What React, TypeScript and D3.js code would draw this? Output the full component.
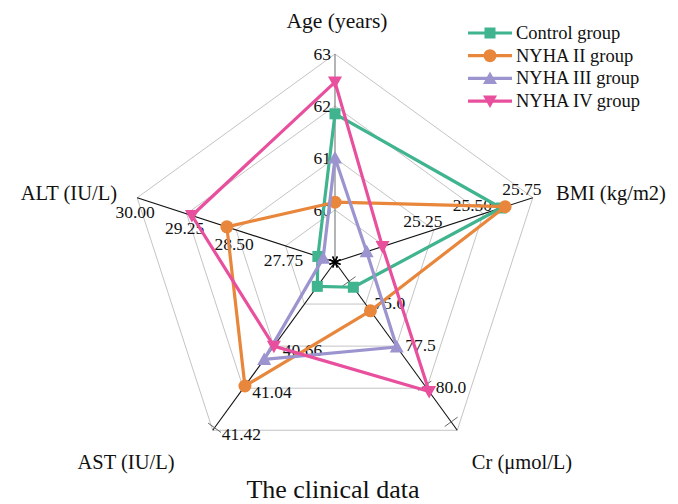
import React from "react";
import * as d3 from "d3";

// Axis names, clockwise from the top
const categories = ["Age (years)", "BMI (kg/m2)", "Cr (μmol/L)", "AST (IU/L)", "ALT (IU/L)"];

// Each spoke carries its own scale: [value at centre, value at outer ring]
const axisMin = [59, 24.75, 72.5, 39.9, 27.0];
const axisMax = [63, 25.75, 82.5, 41.42, 30.0];

// Labelled ticks per spoke
const ageTicks = [60, 61, 62, 63];
const bmiTicks = [25.25, 25.5, 25.75];
const crTicks = [75.0, 77.5, 80.0];
const astTicks = [40.66, 41.04, 41.42];
const altTicks = [27.75, 28.5, 29.25, 30.0];
const tickDecimals = [0, 2, 1, 2, 2];

// Group means, in the order of categories
const seriesNames = ["Control group", "NYHA II group", "NYHA III group", "NYHA IV group"];
const controlValues = [61.85, 25.59, 74.0, 40.12, 27.26];
const nyha2Values = [60.15, 25.61, 75.4, 41.02, 28.64];
const nyha3Values = [61.0, 24.91, 77.55, 40.78, 27.18];
const nyha4Values = [62.46, 24.99, 80.2, 40.66, 29.17];

const colors = ["#3fb48f", "#e8873c", "#9b94cf", "#e8509e"];
const markers = ["square", "circle", "triangleUp", "triangleDown"];

const W = 678;
const H = 504;
const cx = 335;
const cy = 262;
const R = 208;
const rings = 4;

const serif = "Liberation Serif";

function Marker({ type, x, y, color }: { type: string; x: number; y: number; color: string }) {
  if (type === "square") {
    return <rect x={x - 5.5} y={y - 5.5} width={11} height={11} fill={color} />;
  }
  if (type === "circle") {
    return <circle cx={x} cy={y} r={6.5} fill={color} />;
  }
  if (type === "triangleUp") {
    return <path d={`M${x},${y - 7}L${x + 7},${y + 5.5}L${x - 7},${y + 5.5}Z`} fill={color} />;
  }
  return <path d={`M${x},${y + 7}L${x + 7},${y - 5.5}L${x - 7},${y - 5.5}Z`} fill={color} />;
}

export default function App() {
  const n = categories.length;
  const angle = d3.scaleLinear().domain([0, n]).range([0, 2 * Math.PI]);
  const radial = categories.map((_, i) =>
    d3.scaleLinear().domain([axisMin[i], axisMax[i]]).range([0, R])
  );
  const pt = (i: number, r: number): [number, number] => {
    const a = angle(i);
    return [cx + r * Math.sin(a), cy - r * Math.cos(a)];
  };

  const allTicks = [ageTicks, bmiTicks, crTicks, astTicks, altTicks];
  const allSeries = [controlValues, nyha2Values, nyha3Values, nyha4Values];
  const lineGen = d3.line<[number, number]>().curve(d3.curveLinearClosed);

  // Gray pentagon rings
  const ringPaths = d3.range(1, rings + 1).map((k) =>
    lineGen(categories.map((_, i) => pt(i, (R * k) / rings)))
  );

  // Tick label placement per spoke
  const tickLabel = (i: number, v: number) => {
    const [x, y] = pt(i, radial[i](v));
    const text = v.toFixed(tickDecimals[i]);
    if (i === 0) return { x: x - 4, y: y + 6, anchor: "end", text };
    if (i === 1) return { x: x - 11, y: y - 3, anchor: "middle", text };
    if (i === 2) return { x: x + 9, y: y + 5, anchor: "start", text };
    if (i === 3) return { x: x + 9, y: y + 10, anchor: "start", text };
    return { x: x - 2, y: y + 20, anchor: "middle", text };
  };

  // Cross ticks drawn on the lower spokes
  const crossTicks: [number, number][] = [
    [2, 0.115],
    [2, 0.735],
    [2, 0.95],
    [3, 0.985],
  ];

  const textStyle = { fontFamily: serif };

  return (
    <svg width={W} height={H} style={{ position: "absolute", left: 0, top: 0, background: "#fff" }}>
      <rect x={0} y={0} width={W} height={H} fill="#fff" />
      {ringPaths.map((d, k) => (
        <path key={k} d={d || ""} fill="none" stroke="#c4c4c4" strokeWidth={1} />
      ))}
      {categories.map((_, i) => {
        const [x, y] = pt(i, R);
        return (
          <line key={i} x1={cx} y1={cy} x2={x} y2={y} stroke={i === 0 ? "#777" : "#111"} strokeWidth={1.1} />
        );
      })}
      {crossTicks.map(([i, f], k) => {
        const [x, y] = pt(i, R * f);
        const a = angle(i);
        const px = Math.cos(a) * 8;
        const py = Math.sin(a) * 8;
        return <line key={k} x1={x - px} y1={y - py} x2={x + px} y2={y + py} stroke="#666" strokeWidth={1} />;
      })}
      {allTicks.map((ticks, i) =>
        ticks.map((v) => {
          const l = tickLabel(i, v);
          return (
            <text key={`${i}-${v}`} x={l.x} y={l.y} textAnchor={l.anchor as any} style={textStyle} fontSize={17.5} fill="#111">
              {l.text}
            </text>
          );
        })
      )}
      {allSeries.map((vals, s) => {
        const pts = vals.map((v, i) => pt(i, radial[i](v)));
        return (
          <g key={s}>
            <path d={lineGen(pts) || ""} fill="none" stroke={colors[s]} strokeWidth={3.2} strokeLinejoin="round" />
            {pts.map(([x, y], i) => (
              <Marker key={i} type={markers[s]} x={x} y={y} color={colors[s]} />
            ))}
          </g>
        );
      })}
      {/* centre asterisk */}
      {d3.range(8).map((k) => {
        const a = (k * Math.PI) / 4 + Math.PI / 8;
        return (
          <line key={k} x1={cx - 6 * Math.cos(a)} y1={cy - 6 * Math.sin(a)} x2={cx + 6 * Math.cos(a)} y2={cy + 6 * Math.sin(a)} stroke="#000" strokeWidth={1.3} />
        );
      })}
      {/* axis titles */}
      <text x={337} y={28} textAnchor="middle" style={textStyle} fontSize={21.5} fill="#111">{categories[0]}</text>
      <text x={556} y={200} textAnchor="start" style={textStyle} fontSize={20.5} fill="#111">{categories[1]}</text>
      <text x={522} y={469} textAnchor="middle" style={textStyle} fontSize={20.5} fill="#111">{categories[2]}</text>
      <text x={126} y={469} textAnchor="middle" style={textStyle} fontSize={20.5} fill="#111">{categories[3]}</text>
      <text x={117} y={200} textAnchor="end" style={textStyle} fontSize={20.5} fill="#111">{categories[4]}</text>
      {/* legend */}
      {seriesNames.map((name, s) => {
        const y = 33 + s * 22.7;
        return (
          <g key={name}>
            <line x1={468} x2={512} y1={y} y2={y} stroke={colors[s]} strokeWidth={3.2} />
            <Marker type={markers[s]} x={490} y={y} color={colors[s]} />
            <text x={516} y={y + 6} style={textStyle} fontSize={18.5} fill="#111">{name}</text>
          </g>
        );
      })}
      <text x={333} y={498} textAnchor="middle" style={textStyle} fontSize={26} fill="#111">The clinical data</text>
    </svg>
  );
}
